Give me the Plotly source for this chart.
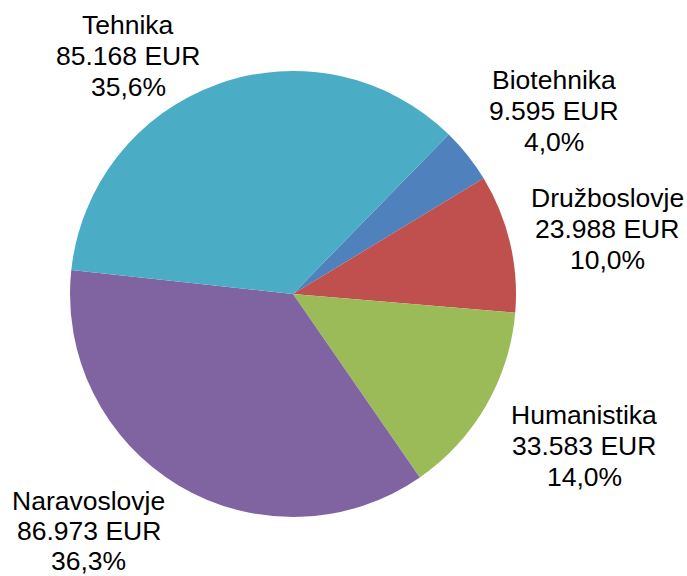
import plotly.graph_objects as go

categories = ["Biotehnika", "Družboslovje", "Humanistika", "Naravoslovje", "Tehnika"]
values = [9595, 23988, 33583, 86973, 85168]
colors = ["#4F81BD", "#C0504D", "#9BBB59", "#8064A2", "#4BACC6"]
# label centre positions (pixels, first line), one per category
label_px = [(554, 80), (607, 198), (584, 415), (89, 501), (128, 25)]

W, H = 687, 576
total = sum(values)

def fmt_eur(v):
    return f"{v:,}".replace(",", ".") + " EUR"

def fmt_pct(v):
    return f"{100 * v / total:.1f}".replace(".", ",") + "%"

fig = go.Figure(go.Pie(
    labels=categories,
    values=values,
    sort=False,
    direction="clockwise",
    rotation=44.3,
    marker=dict(colors=colors, line=dict(width=0)),
    textinfo="none",
    hoverinfo="label+value+percent",
    showlegend=False,
    domain=dict(x=[70 / W, 516 / W], y=[(H - 517) / H, (H - 71) / H]),
))

annotations = []
for cat, v, (px, py) in zip(categories, values, label_px):
    line_gap = 30 if cat == "Naravoslovje" else 31
    for i, txt in enumerate([cat, fmt_eur(v), fmt_pct(v)]):
        annotations.append(dict(
            x=px / W, y=1 - (py + i * line_gap) / H,
            xref="paper", yref="paper",
            text=txt, showarrow=False,
            xanchor="center", yanchor="middle",
            font=dict(family="Liberation Sans, Arial, sans-serif", size=26.5, color="#000000"),
        ))

fig.update_layout(
    width=W, height=H,
    margin=dict(l=0, r=0, t=0, b=0),
    paper_bgcolor="#FFFFFF",
    plot_bgcolor="#FFFFFF",
    annotations=annotations,
)

fig.write_html(
    "out.html",
    config={"displayModeBar": False},
    post_script="document.body.style.margin='0';document.body.style.overflow='hidden';",
)
